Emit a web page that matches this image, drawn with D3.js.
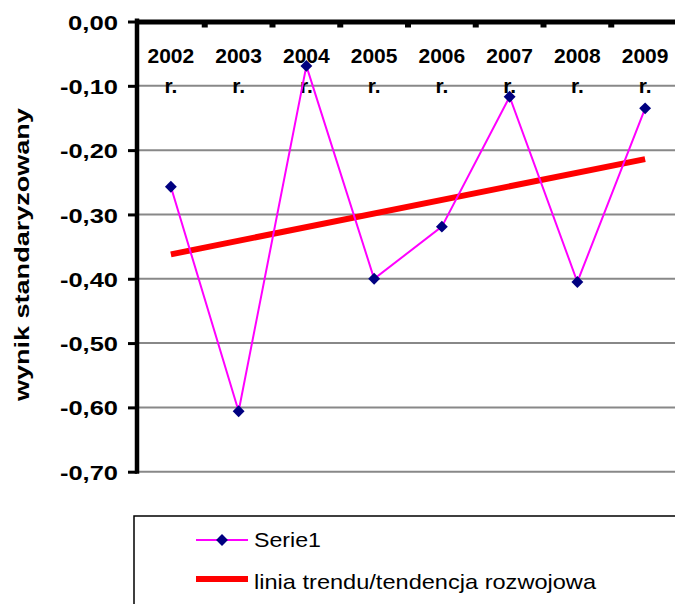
<!DOCTYPE html>
<html>
<head>
<meta charset="utf-8">
<script src="https://cdn.jsdelivr.net/npm/d3@7"></script>
<style>
  body { margin: 0; background: #fff; }
  text { font-family: "Liberation Sans", Arial, sans-serif; }
</style>
</head>
<body>
<div id="chart"></div>
<script>
// data
const years = ["2002", "2003", "2004", "2005", "2006", "2007", "2008", "2009"];
const values = [-0.257, -0.606, -0.069, -0.400, -0.319, -0.117, -0.405, -0.135];
const trendYears = ["2002", "2009"];
const trendValues = [-0.362, -0.214];
const yTicks = [0, -0.1, -0.2, -0.3, -0.4, -0.5, -0.6, -0.7];
const legendLabels = ["Serie1", "linia trendu/tendencja rozwojowa"];

const W = 675, H = 604;
const plot = {left: 137, right: 679, top: 21.5, bottom: 471.7};

const svg = d3.select("#chart")
  .append("svg")
    .attr("width", W)
    .attr("height", H);

const x = d3.scaleBand()
  .domain(years)
  .range([plot.left, plot.right]);

const y = d3.scaleLinear()
  .domain([0, -0.7])
  .range([plot.top, plot.bottom]);

const fmt = v => d3.format(".2f")(v).replace(".", ",").replace("−", "-");

// gridlines
svg.append("g")
  .selectAll("line")
  .data(yTicks)
  .join("line")
    .attr("x1", plot.left)
    .attr("x2", W)
    .attr("y1", d => y(d))
    .attr("y2", d => y(d))
    .attr("stroke", "#888")
    .attr("stroke-width", 2);

// Y axis
const yAxis = svg.append("g")
  .attr("transform", `translate(${plot.left},0)`)
  .call(d3.axisLeft(y).tickValues(yTicks).tickSize(9).tickPadding(10).tickFormat(fmt));
yAxis.select(".domain").remove();
yAxis.selectAll(".tick line").attr("stroke", "#000").attr("stroke-width", 3);
yAxis.selectAll(".tick text")
  .attr("fill", "#000")
  .style("font-size", "21px")
  .style("font-weight", "bold")
  .attr("dy", "0.36em")
  .attr("textLength", d => d === 0 ? 50 : 58)
  .attr("lengthAdjust", "spacingAndGlyphs");
svg.append("line")
  .attr("x1", plot.left).attr("x2", plot.left)
  .attr("y1", plot.top - 3).attr("y2", plot.bottom + 2)
  .attr("stroke", "#000")
  .attr("stroke-width", 4.5);

// top category axis (crosses at 0)
svg.append("line")
  .attr("x1", plot.left - 2).attr("x2", W)
  .attr("y1", plot.top + 0.5).attr("y2", plot.top + 0.5)
  .attr("stroke", "#000")
  .attr("stroke-width", 5);
svg.append("g")
  .selectAll("rect")
  .data(years.slice(1))
  .join("rect")
    .attr("x", d => x(d) - 3)
    .attr("y", plot.top + 2)
    .attr("width", 6)
    .attr("height", 4)
    .attr("fill", "#000");

const catLabels = svg.append("g")
  .selectAll("text")
  .data(years)
  .join("text")
    .attr("text-anchor", "middle")
    .style("font-size", "21px")
    .style("font-weight", "bold")
    .attr("fill", "#000");
catLabels.append("tspan")
  .attr("x", d => x(d) + x.bandwidth() / 2)
  .attr("y", 63)
  .text(d => d);
catLabels.append("tspan")
  .attr("x", d => x(d) + x.bandwidth() / 2)
  .attr("y", 93)
  .text("r.");

// Y axis title
svg.append("text")
  .attr("transform", `translate(29,${(plot.top + plot.bottom) / 2 + 8}) rotate(-90)`)
  .attr("text-anchor", "middle")
  .style("font-size", "20px")
  .style("font-weight", "bold")
  .attr("textLength", 293)
  .attr("lengthAdjust", "spacingAndGlyphs")
  .text("wynik standaryzowany");

// trend line
const cx = d => x(d) + x.bandwidth() / 2;
svg.append("line")
  .attr("x1", cx(trendYears[0]))
  .attr("x2", cx(trendYears[1]))
  .attr("y1", y(trendValues[0]))
  .attr("y2", y(trendValues[1]))
  .attr("stroke", "#ff0000")
  .attr("stroke-width", 6);

// series line
const line = d3.line()
  .x((d, i) => cx(years[i]))
  .y(d => y(d));
svg.append("path")
  .datum(values)
  .attr("d", line)
  .attr("fill", "none")
  .attr("stroke", "#ff00ff")
  .attr("stroke-width", 2);

const diamond = d3.symbol().type(d3.symbolDiamond2).size(90);
svg.append("g")
  .selectAll("path")
  .data(values)
  .join("path")
    .attr("d", diamond)
    .attr("transform", (d, i) => `translate(${cx(years[i])},${y(d)})`)
    .attr("fill", "#000080");

// legend
const legend = svg.append("g");
legend.append("rect")
  .attr("x", 134)
  .attr("y", 516)
  .attr("width", 600)
  .attr("height", 120)
  .attr("fill", "none")
  .attr("stroke", "#000")
  .attr("stroke-width", 1.5);

legend.append("line")
  .attr("x1", 196).attr("x2", 248)
  .attr("y1", 540).attr("y2", 540)
  .attr("stroke", "#ff00ff")
  .attr("stroke-width", 2);
legend.append("path")
  .attr("d", diamond)
  .attr("transform", "translate(222,540)")
  .attr("fill", "#000080");
legend.append("line")
  .attr("x1", 196).attr("x2", 248)
  .attr("y1", 579).attr("y2", 579)
  .attr("stroke", "#ff0000")
  .attr("stroke-width", 6);

legend.selectAll(".legend-text")
  .data(legendLabels)
  .join("text")
    .attr("class", "legend-text")
    .attr("x", 254)
    .attr("y", (d, i) => 547 + i * 42)
    .style("font-size", "21px")
    .attr("fill", "#000")
    .attr("textLength", (d, i) => i === 0 ? 67 : 342)
    .attr("lengthAdjust", "spacingAndGlyphs")
    .text(d => d);
</script>
</body>
</html>
